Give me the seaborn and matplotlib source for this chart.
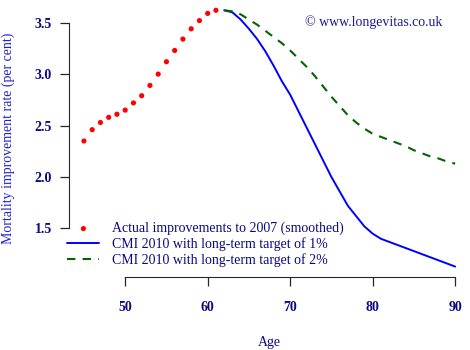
import matplotlib
matplotlib.use("Agg")
import matplotlib.pyplot as plt
import seaborn as sns
import pandas as pd

# actual improvements (smoothed), ages 45-61
actual_ages = list(range(45, 62))
actual_vals = [2.35, 2.46, 2.53, 2.58, 2.61, 2.65, 2.72, 2.79, 2.89, 3.00,
               3.12, 3.23, 3.34, 3.44, 3.52, 3.59, 3.62]

# CMI 2010 projections, ages 62-90
proj_ages = list(range(62, 91))
cmi_1pct = [3.62, 3.60, 3.53, 3.44, 3.34, 3.22, 3.08, 2.93, 2.80, 2.64,
            2.48, 2.32, 2.16, 2.00, 1.86, 1.72, 1.62, 1.52, 1.45, 1.40,
            1.37, 1.34, 1.31, 1.28, 1.25, 1.22, 1.19, 1.16, 1.13]
cmi_2pct = [3.62, 3.61, 3.58, 3.53, 3.48, 3.42, 3.36, 3.30, 3.23, 3.15,
            3.07, 2.98, 2.88, 2.78, 2.69, 2.60, 2.53, 2.47, 2.42, 2.39,
            2.36, 2.33, 2.30, 2.26, 2.23, 2.20, 2.18, 2.15, 2.13]

labels = ["Actual improvements to 2007 (smoothed)",
          "CMI 2010 with long-term target of 1%",
          "CMI 2010 with long-term target of 2%"]

sns.set_style("ticks")
plt.rcParams['font.family'] = ['Liberation Serif', 'DejaVu Serif']

navy = "#0a0a80"

fig = plt.figure(figsize=(4.7, 3.5), dpi=100)
ax = fig.add_axes([0.147, 0.209, 0.853, 0.791])

actual = pd.DataFrame({"age": actual_ages, "rate": actual_vals})
proj = pd.DataFrame({"age": proj_ages, "one": cmi_1pct, "two": cmi_2pct})

sns.scatterplot(data=actual, x="age", y="rate", ax=ax, color="red", s=14,
                marker="o", edgecolor="none", label=labels[0])
sns.lineplot(data=proj, x="age", y="one", ax=ax, color="blue", lw=1.4,
             label=labels[1])
sns.lineplot(data=proj, x="age", y="two", ax=ax, color="#006400", lw=1.5,
             dashes=(4, 3.5), label=labels[2])

ax.set_xlim(43.2, 91.8)
ax.set_ylim(1.03, 3.72)
ax.set_xticks([50, 60, 70, 80, 90])
ax.set_yticks([1.5, 2.0, 2.5, 3.0, 3.5])
ax.set_yticklabels(["1.5", "2.0", "2.5", "3.0", "3.5"])
ax.spines['top'].set_visible(False)
ax.spines['right'].set_visible(False)
ax.spines['left'].set_bounds(1.5, 3.5)
ax.spines['bottom'].set_bounds(50, 90)
ax.tick_params(axis='x', length=6.5, width=0.9, pad=11, labelsize=10,
               labelcolor=navy)
ax.tick_params(axis='y', length=6.5, width=0.9, pad=6, labelsize=10,
               labelcolor=navy)
for t in ax.get_xticklabels() + ax.get_yticklabels():
    t.set_fontweight("bold")

ax.set_xlabel("Age", fontsize=10, color=navy, labelpad=16)
ax.set_ylabel("Mortality improvement rate (per cent)", fontsize=10,
              color="#2020cc", labelpad=14)

ax.text(0.93, 0.92, "\u00a9 www.longevitas.co.uk", transform=ax.transAxes,
        ha="right", va="center", fontsize=10, color="#1a1a9a")

leg = ax.legend(loc="lower left", frameon=False, fontsize=10,
                bbox_to_anchor=(-0.025, 0.005), handlelength=2.3,
                handletextpad=0.9, labelspacing=0.15, borderaxespad=0.2)
for t in leg.get_texts():
    t.set_color(navy)

fig.savefig("out.png", dpi=100)
